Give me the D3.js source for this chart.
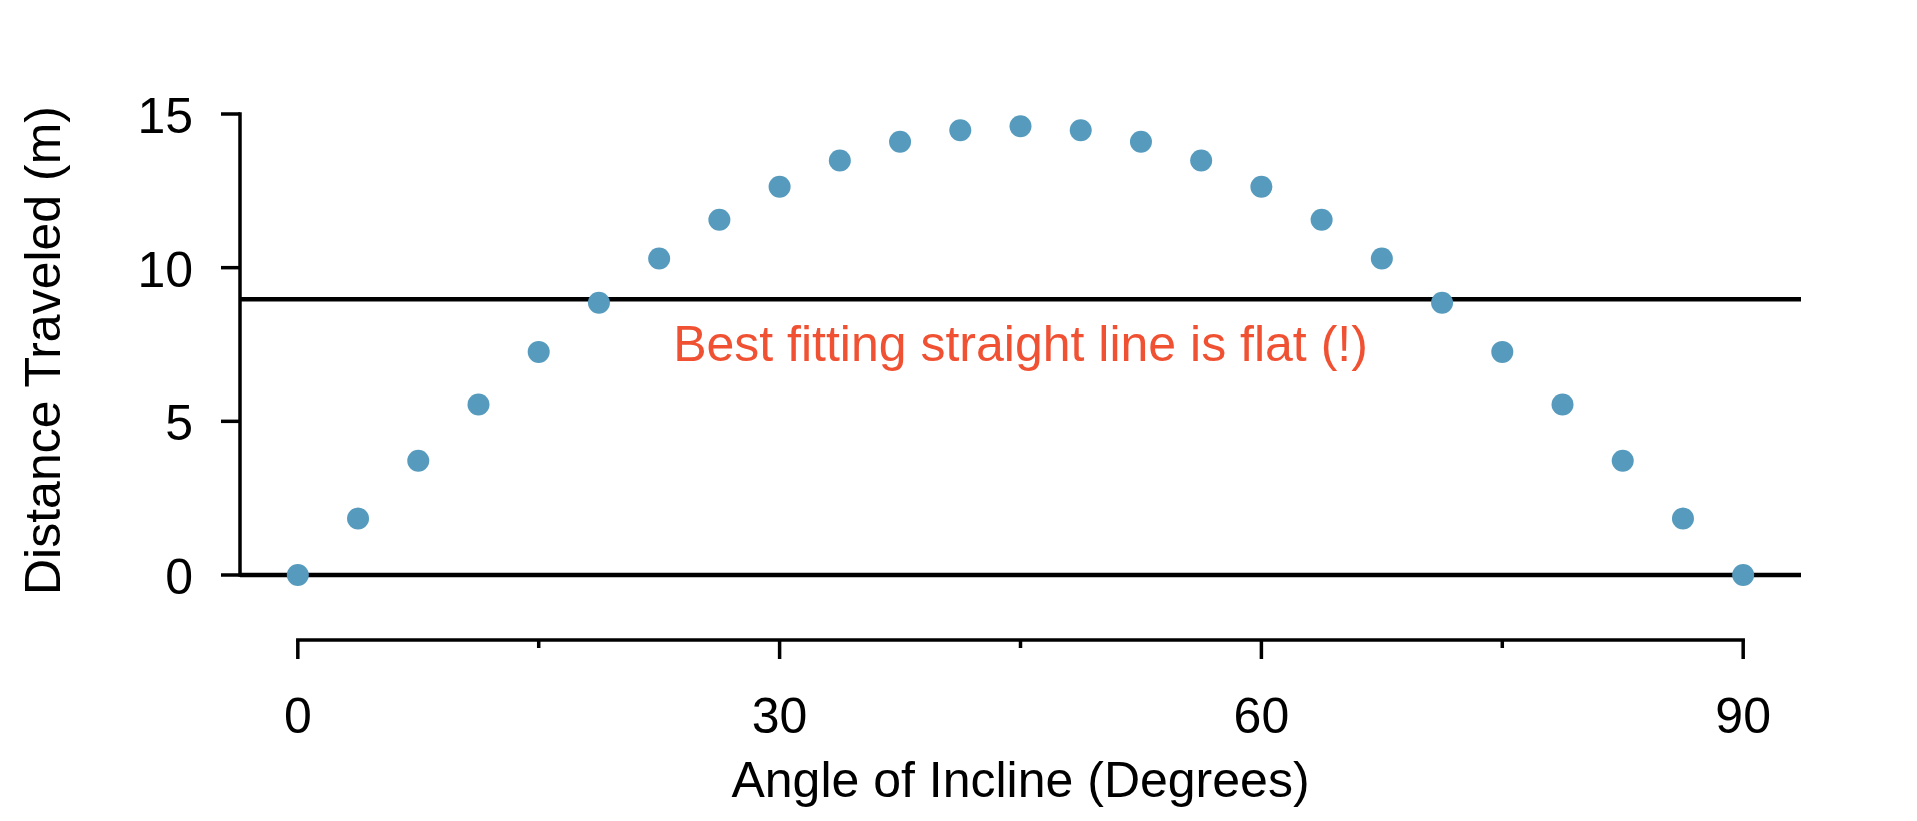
<!DOCTYPE html>
<html>
<head>
<meta charset="utf-8">
<script src="https://cdn.jsdelivr.net/npm/d3@7"></script>
<style>
  html, body { margin: 0; padding: 0; background: #ffffff; }
  svg { display: block; }
  text { font-family: "Liberation Sans", Arial, Helvetica, sans-serif; }
</style>
</head>
<body>
<div id="chart"></div>
<script>
// ---- data ----
const angles = [0, 3.75, 7.5, 11.25, 15, 18.75, 22.5, 26.25, 30, 33.75, 37.5, 41.25,
                45, 48.75, 52.5, 56.25, 60, 63.75, 67.5, 71.25, 75, 78.75, 82.5, 86.25, 90];
const distances = [0, 1.84, 3.72, 5.55, 7.26, 8.86, 10.30, 11.56, 12.63, 13.49, 14.10, 14.47,
                   14.60, 14.47, 14.10, 13.49, 12.63, 11.56, 10.30, 8.86, 7.26, 5.55, 3.72, 1.84, 0];
const fitLevel = 8.97;
const xTicks = [0, 15, 30, 45, 60, 75, 90];
const xTickLabels = ["0", "", "30", "", "60", "", "90"];
const yTicks = [0, 5, 10, 15];
const yTickLabels = ["0", "5", "10", "15"];
const xTitle = "Angle of Incline (Degrees)";
const yTitle = "Distance Traveled (m)";
const note = "Best fitting straight line is flat (!)";
const noteAt = [45, 7.5];

// ---- layout ----
const W = 1917, H = 821;
const blue = "#569BBD", red = "#F05133";

const svg = d3.select("#chart").append("svg")
  .attr("width", W).attr("height", H)
  .attr("viewBox", `0 0 ${W} ${H}`);
svg.append("rect").attr("width", W).attr("height", H).attr("fill", "#fff");

const x = d3.scaleLinear().domain([-3.6, 93.6]).range([240, 1801]);
const y = d3.scaleLinear().domain([0, 15]).range([575, 114]);

// y axis (R style: line from first to last tick)
const yAxis = svg.append("g").attr("transform", `translate(${x(-3.6)},0)`);
yAxis.append("line")
  .attr("x1", 0).attr("x2", 0)
  .attr("y1", y(0)).attr("y2", y(15))
  .attr("stroke", "#000").attr("stroke-width", 3.5).attr("stroke-linecap", "square");
yAxis.selectAll("line.tick").data(yTicks).join("line").attr("class", "tick")
  .attr("x1", 0).attr("x2", -19)
  .attr("y1", d => y(d)).attr("y2", d => y(d))
  .attr("stroke", "#000").attr("stroke-width", 3.5);
yAxis.selectAll("text").data(yTicks).join("text")
  .attr("x", -47).attr("y", d => y(d) + 19)
  .attr("text-anchor", "end")
  .attr("font-size", 50)
  .attr("fill", "#000")
  .text((d, i) => yTickLabels[i]);

// x axis, drawn below the plot region
const xAxisY = 640;
const xAxis = svg.append("g").attr("transform", `translate(0,${xAxisY})`);
xAxis.append("line")
  .attr("x1", x(0)).attr("x2", x(90))
  .attr("y1", 0).attr("y2", 0)
  .attr("stroke", "#000").attr("stroke-width", 3.5).attr("stroke-linecap", "square");
xAxis.selectAll("line.tick").data(xTicks).join("line").attr("class", "tick")
  .attr("x1", d => x(d)).attr("x2", d => x(d))
  .attr("y1", 0).attr("y2", (d, i) => xTickLabels[i] ? 19 : 8)
  .attr("stroke", "#000").attr("stroke-width", 3.5);
xAxis.selectAll("text").data(xTicks.filter((d, i) => xTickLabels[i])).join("text")
  .attr("x", d => x(d)).attr("y", 93)
  .attr("text-anchor", "middle")
  .attr("font-size", 50)
  .attr("fill", "#000")
  .text(d => xTickLabels[xTicks.indexOf(d)]);

// axis titles
svg.append("text")
  .attr("x", (x(0) + x(90)) / 2).attr("y", 797)
  .attr("text-anchor", "middle").attr("font-size", 50).attr("fill", "#000")
  .text(xTitle);
svg.append("text")
  .attr("transform", `translate(60,${y(7.5) + 6}) rotate(-90)`)
  .attr("text-anchor", "middle").attr("font-size", 50).attr("fill", "#000")
  .text(yTitle);

// horizontal reference lines: y = 0 and the best-fit line
svg.selectAll("line.h").data([0, fitLevel]).join("line").attr("class", "h")
  .attr("x1", x(-3.6)).attr("x2", x(93.6))
  .attr("y1", d => y(d)).attr("y2", d => y(d))
  .attr("stroke", "#000").attr("stroke-width", 4.5);

// points
svg.append("g").selectAll("circle")
  .data(angles.map((a, i) => ({a, d: distances[i]})))
  .join("circle")
  .attr("cx", d => x(d.a)).attr("cy", d => y(d.d))
  .attr("r", 11)
  .attr("fill", blue);

// annotation
svg.append("text")
  .attr("x", x(noteAt[0])).attr("y", y(noteAt[1]) + 16)
  .attr("text-anchor", "middle").attr("font-size", 50).attr("fill", red)
  .text(note);
</script>
</body>
</html>
